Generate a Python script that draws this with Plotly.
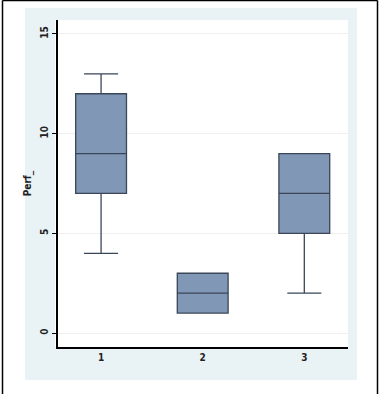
import plotly.graph_objects as go

groups = [1, 2, 3]
q1 = [7, 1, 5]
median = [9, 2, 7]
q3 = [12, 3, 9]
lower = [4, 1, 2]
upper = [13, 3, 9]
y_ticks = [0, 5, 10, 15]
x_labels = ["1", "2", "3"]
y_title = "Perf_"

W, H = 381, 394
L, R, T, B = 58, 348, 20, 347

def px(x):
    return (x - L) / (R - L)

def py(y):
    return (B - y) / (B - T)

fig = go.Figure()
fig.add_trace(go.Box(
    x=groups, q1=q1, median=median, q3=q3,
    lowerfence=lower, upperfence=upper,
    width=0.5, whiskerwidth=0.67,
    fillcolor="rgb(128,151,182)",
    line=dict(color="rgb(58,70,88)", width=1.3),
    boxpoints=False, hoverinfo="skip", showlegend=False,
))

font = dict(family="Liberation Sans Narrow, Arial Narrow, DejaVu Sans Condensed, sans-serif",
            size=10, color="#222", weight="bold")

shapes = [
    dict(type="rect", xref="paper", yref="paper", layer="below",
         x0=px(25), x1=px(357), y0=py(380), y1=py(8),
         fillcolor="rgb(233,242,245)", line=dict(width=0)),
    dict(type="rect", xref="paper", yref="paper", layer="below",
         x0=px(55), x1=px(348), y0=py(347), y1=py(20),
         fillcolor="white", line=dict(width=0)),
    dict(type="line", xref="paper", yref="paper", x0=px(2.5), x1=px(2.5), y0=py(394), y1=py(0.5),
         line=dict(color="black", width=1.5)),
    dict(type="line", xref="paper", yref="paper", x0=px(2.5), x1=px(377.5), y0=py(0.5), y1=py(0.5),
         line=dict(color="black", width=1.5)),
    dict(type="line", xref="paper", yref="paper", x0=px(377.5), x1=px(377.5), y0=py(394), y1=py(0.5),
         line=dict(color="black", width=1.5)),
]

fig.update_layout(
    width=W, height=H,
    margin=dict(l=L, r=W - R, t=T, b=H - B),
    paper_bgcolor="white", plot_bgcolor="rgba(0,0,0,0)",
    font=font,
    shapes=shapes,
    xaxis=dict(
        range=[0.576, 3.43], tickvals=groups, ticktext=x_labels,
        showgrid=False, zeroline=False, showline=True, linecolor="black", linewidth=1.5,
        ticks="", ticklen=0, tickfont=font,
    ),
    yaxis=dict(
        range=[-0.70, 15.7], tickvals=y_ticks, tickangle=-90,
        showgrid=True, gridcolor="rgb(243,238,238)", gridwidth=1, zeroline=False,
        showline=True, linecolor="black", linewidth=1.5,
        ticks="outside", ticklen=4, tickcolor="black",
        title=dict(text=y_title, font=font, standoff=6),
        tickfont=font,
    ),
)

fig.write_html(
    "out.html",
    config={"displayModeBar": False},
    post_script="document.body.style.margin='0';document.body.style.overflow='hidden';",
)
